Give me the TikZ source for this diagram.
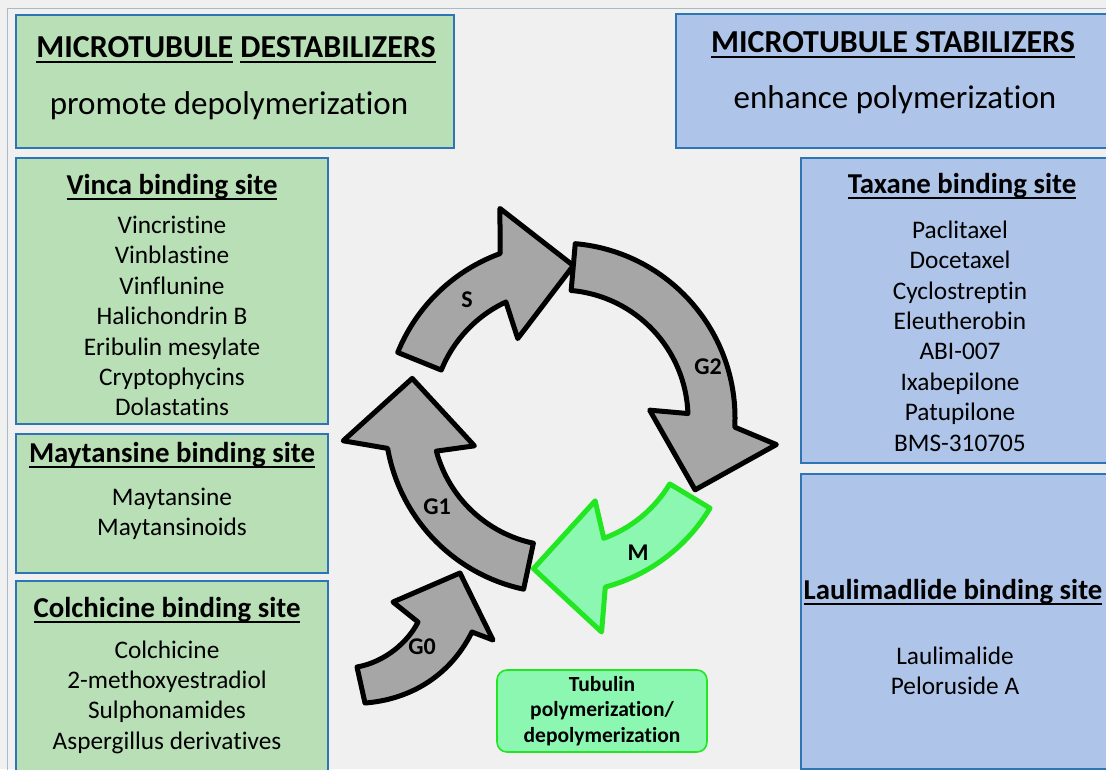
\documentclass[tikz,border=0pt]{standalone}
\usepackage{fontspec}
\setmainfont{Carlito}[Ligatures=NoCommon]
\usetikzlibrary{positioning}

\definecolor{bgGray}{HTML}{F0F0F0}
\definecolor{frameGray}{HTML}{A9B9C6}
\definecolor{boxBlue}{HTML}{2E75B6}
\definecolor{destabGreen}{HTML}{B9DFB7}
\definecolor{stabBlue}{HTML}{AEC4E8}
\definecolor{arrowGray}{HTML}{A6A6A6}
\definecolor{mGreen}{HTML}{8CF7B0}
\definecolor{mEdge}{HTML}{22E622}

% underline that sits under one word or phrase
\newcommand{\undl}[1]{\setbox0\hbox{#1}\rlap{\rule[-5pt]{\wd0}{2pt}}\box0\relax}
% one bent arrow of the cycle: tail angle, head base angle, style
\newcommand{\cyclearrow}[3]{%
  \draw[#3] (#1:175) arc[start angle=#1, end angle=#2-2, radius=175]
    -- (#2-6:218) -- (#2-27:153) -- (#2+6:90) -- (#2+3:128)
    arc[start angle=#2+3, end angle=#1, radius=128] -- cycle;}

\begin{document}
\begin{tikzpicture}[x=1pt, y=-1pt,
    greenpanel/.style={rectangle, draw=boxBlue, line width=1.6pt, fill=destabGreen, inner sep=0pt, anchor=north west},
    bluepanel/.style={rectangle, draw=boxBlue, line width=1.6pt, fill=stabBlue, inner sep=0pt, anchor=north west},
    maintitle/.style={font=\fontsize{32}{38}\selectfont\bfseries},
    subtitle/.style={font=\fontsize{33}{40}\selectfont},
    sitetitle/.style={font=\fontsize{28.8}{34}\selectfont\bfseries},
    druglist/.style={align=center, font=\fontsize{25.3}{30.4}\selectfont},
    cyclearr/.style={fill=arrowGray, draw=black, line width=5pt, line join=round},
    marr/.style={fill=mGreen, draw=mEdge, line width=5pt, line join=round},
    cyclelbl/.style={font=\fontsize{24}{28}\selectfont\bfseries},
    tubbox/.style={rectangle, rounded corners=10pt, draw=mEdge, line width=1.6pt, fill=mGreen, minimum width=210, minimum height=82, align=center, font=\fontsize{21.5}{25.5}\selectfont\bfseries}
  ]
  \useasboundingbox (0,0) rectangle (1106,769);
  \fill[bgGray] (0,0) rectangle (1106,769);
  \draw[frameGray, line width=1pt] (7,8) rectangle (1120,780);

  % destabilizers
  \node[greenpanel, minimum width=438, minimum height=133] (destab) at (15,14) {};
  \node[maintitle] (destabT) at (236,50) {\undl{MICROTUBULE} \undl{DESTABILIZERS}};
  \node[subtitle] (destabS) at (229,106) {promote depolymerization};

  \node[greenpanel, minimum width=312, minimum height=266] (vinca) at (15,157) {};
  \node[sitetitle] (vincaT) at (172,187) {\undl{Vinca binding site}};
  \node[druglist] (vincaL) at (172,316) {Vincristine\\Vinblastine\\Vinflunine\\Halichondrin B\\Eribulin mesylate\\Cryptophycins\\Dolastatins};

  \node[greenpanel, minimum width=312, minimum height=139] (mayt) at (15,433) {};
  \node[sitetitle] (maytT) at (172,455) {\undl{Maytansine binding site}};
  \node[druglist] (maytL) at (172,514) {Maytansine\\Maytansinoids};

  \node[greenpanel, minimum width=312, minimum height=190] (colch) at (15,580) {};
  \node[sitetitle] (colchT) at (167,610) {\undl{Colchicine binding site}};
  \node[druglist] (colchL) at (167,697) {Colchicine\\2-methoxyestradiol\\Sulphonamides\\Aspergillus derivatives};

  % stabilizers
  \node[bluepanel, minimum width=445, minimum height=134] (stab) at (675,13) {};
  \node[maintitle] (stabT) at (893,45) {\undl{MICROTUBULE STABILIZERS}};
  \node[subtitle] (stabS) at (895,100) {enhance polymerization};

  \node[bluepanel, minimum width=320, minimum height=305] (taxane) at (800,157) {};
  \node[sitetitle] (taxaneT) at (962,186) {\undl{Taxane binding site}};
  \node[druglist] (taxaneL) at (960,336) {Paclitaxel\\Docetaxel\\Cyclostreptin\\Eleutherobin\\ABI-007\\Ixabepilone\\Patupilone\\BMS-310705};

  \node[bluepanel, minimum width=320, minimum height=295] (laul) at (800,473) {};
  \node[sitetitle] (laulT) at (953,592) {\undl{Laulimadlide binding site}};
  \node[druglist] (laulL) at (955,671) {Laulimalide\\Peloruside A};

  % cell cycle
  \begin{scope}[shift={(560,418)}, y=1pt]
    \cyclearrow{158}{112}{cyclearr}
    \cyclearrow{85}{-1}{cyclearr}
    \cyclearrow{-102}{-168}{cyclearr}
    \cyclearrow{-31}{-73}{marr}
  \end{scope}
  \draw[cyclearr] (357,667) .. controls (385,662) and (408,642) .. (418,622) -- (393,602) -- (460,573)
    -- (493,640) -- (472,632) .. controls (448,680) and (405,700) .. (365,703) -- cycle;

  \node[cyclelbl] (lblS) at (467,300) {S};
  \node[cyclelbl] (lblG2) at (708,367) {G2};
  \node[cyclelbl] (lblG1) at (437,507) {G1};
  \node[cyclelbl] (lblM) at (638,553) {M};
  \node[cyclelbl] (lblG0) at (422,647) {G0};

  \node[tubbox] (tubulin) at (602,711) {Tubulin\\polymerization/\\depolymerization};
\end{tikzpicture}
\end{document}
